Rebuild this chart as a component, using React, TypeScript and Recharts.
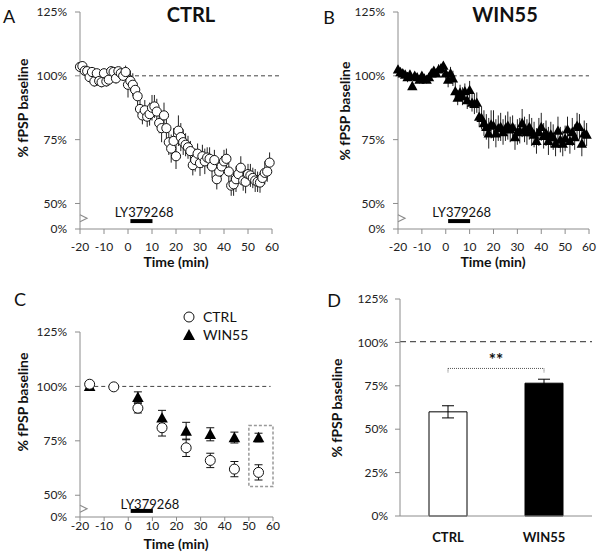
import React from "react"
import { ComposedChart, Line, Bar, Cell, XAxis, YAxis, ErrorBar, ReferenceLine, ReferenceArea, ReferenceDot, Legend } from "recharts"

const FONT = "Lato, 'Open Sans', sans-serif"
const AXIS = "#8c8c8c"

// 1-min time course (panels A, B)
const timeMin = [-20,-19,-18,-17,-16,-15,-14,-13,-12,-11,-10,-9,-8,-7,-6,-5,-4,-3,-2,-1,
  0,1,2,3,4,5,6,7,8,9,10,11,12,13,14,15,16,17,18,19,
  20,21,22,23,24,25,26,27,28,29,30,31,32,33,34,35,36,37,38,39,
  40,41,42,43,44,45,46,47,48,49,50,51,52,53,54,55,56,57,58,59]

const ctrlPct = [103.5,103.8,102,101.8,99.5,101.5,97.8,101,98,97.5,
  101,97.8,98.5,101.8,101.5,99,101.8,101,100,101.5,
  96.5,98,96.5,94.5,92,87,84.5,86.5,84,85,
  87.5,88,86,81.5,79.5,84.5,79.5,74,71.5,74.5,
  68.5,78.5,76,74,73,72,70.5,65,67,69.5,
  65.8,68.5,66.5,68,67.5,64.5,67,59.5,62.5,64.5,
  66.5,67.5,62.5,57,57.5,59.5,61.5,64,59,58.5,
  61.5,61,60,59,58.5,58.2,60,62,62.5,66]
const ctrlSem = [1.5,2,2,1.5,2,1.5,2,1.5,2,2,
  1.5,2,1.5,2,1.5,2,1.5,2,2,2.5,
  5,4,4.5,3,3.5,4,3.5,4,4,4.5,
  5,4.5,5,4,5.5,5,6,5,5.5,5,
  5,6,5.5,5,4.5,4.5,4,4,4.5,4,
  5,4.5,5,4,4.5,4.5,4,4,4.5,4,
  4.5,4,5,4,4.5,5,4,4.5,4,4.5,
  4,4.5,4,4.5,4,4,3.5,4.5,4,4]

const winPct = [102.5,101.5,101,100.5,99.5,100.5,96,100,99.5,98.5,
  100,99,98.5,99.5,101,102,101,102.5,103,104,
  101,98.5,101,99,94,91.5,93.5,92,94,90.5,
  94.5,89.5,89,89.5,84,83.5,81.5,80,77.5,81,
  80.5,77.5,79.5,80,78,79.5,80.5,79,80,76,
  78,78.5,81.5,79,78,80,78,77,74.5,78,
  80,76.5,77.5,74.5,77,76,73.5,78.5,75,73.5,
  75.5,79,74.5,78,76,80.5,80,73.5,77.5,77]
const winSem = [1.5,1.5,1.5,1.5,2,1.5,1.5,1.5,1.5,1.5,
  1.5,1.5,1.5,1.5,1.5,1.5,1.5,2,1.5,1.5,
  2.5,3,2.5,3,3.5,3,3,3.5,3,3.5,
  3.5,3.5,4,4,4,4.5,5,5,6,5.5,
  6,5.5,5,5.5,5,5,5.5,5,4.5,5,
  5,5,5.5,5,5,5,5.5,5,5,5.5,
  5.5,5,5,5.5,5,5,5,5.5,5,5,
  5,5,5,5.5,5,5,5,5,5,4.5]

// 10-min bins (panel C)
const binTime = [-16,-6,4,14,24,34,44,54]
const binCtrl = [101,99.8,90,81,71.8,66,62,60.5]
const binCtrlSem = [0.8,0.8,2.2,3.8,4,3.3,3.5,3.5]
const binWin = [100,null,95,85.5,79.5,78,76.5,76.5]
const binWinSem = [0.8,null,2.5,3.5,4,3,2.5,2]

// last bin summary (panel D)
const groups = ["CTRL", "WIN55"]
const groupMean = [60, 76.5]
const groupSem = [3.5, 2.3]

const timeTicks = [-20,-10,0,10,20,30,40,50,60]
const pctTicks = [40,50,75,100,125]
const fmtPct = (v: number) => (v === 40 ? "0%" : v + "%")

const tickStyle = { fill: "#222", fontSize: 12, fontFamily: FONT }

const courseA = timeMin.map((t, i) => ({ t, v: ctrlPct[i], e: ctrlSem[i] }))
const courseB = timeMin.map((t, i) => ({ t, v: winPct[i], e: winSem[i] }))
const binned = binTime.map((t, i) => ({ t, c: binCtrl[i], ce: binCtrlSem[i], w: binWin[i], we: binWinSem[i] }))
const bars = groups.map((g, i) => ({ g, m: groupMean[i], e: groupSem[i] }))

function circleDot(r: number) {
  return (p: any) => {
    if (p.value == null || p.cy == null) return <g key={`n${p.index}`} />
    return <circle key={`c${p.index}`} cx={p.cx} cy={p.cy} r={r} fill="#fff" stroke="#111" strokeWidth={1} />
  }
}
function triDot(s: number) {
  return (p: any) => {
    if (p.value == null || p.cy == null) return <g key={`n${p.index}`} />
    const { cx, cy } = p
    return <path key={`t${p.index}`} d={`M${cx},${cy - s}L${cx + s},${cy + s * 0.8}L${cx - s},${cy + s * 0.8}Z`} fill="#000" />
  }
}
const breakMark = (p: any) => (
  <polyline points={`${p.cx},${p.cy - 3.5} ${p.cx + 7},${p.cy} ${p.cx},${p.cy + 3.5}`} fill="none" stroke={AXIS} strokeWidth={1.2} />
)

const abs = (left: number, top: number): React.CSSProperties => ({ position: "absolute", left, top })

function Txt({ x, y, size, bold, children, rotate }: any) {
  return (
    <div style={{ position: "absolute", left: x, top: y, transform: `translate(-50%,-50%)${rotate ? " rotate(-90deg)" : ""}`,
      whiteSpace: "nowrap", fontFamily: FONT, fontSize: size, fontWeight: bold ? 700 : 400, color: "#111", lineHeight: 1 }}>
      {children}
    </div>
  )
}

function Course({ data, yw, right, tri, dashTo }: any) {
  return (
    <ComposedChart width={300} height={280} data={data} margin={{ top: 12, right, bottom: 0, left: 0 }}>
      <XAxis dataKey="t" type="number" domain={[-20, 60]} ticks={timeTicks} interval={0} stroke={AXIS}
        tickSize={5} tickMargin={8} tick={tickStyle} height={51} />
      <YAxis type="number" domain={[40, 125]} ticks={pctTicks} tickFormatter={fmtPct} stroke={AXIS}
        tickSize={5} tickMargin={8} tick={tickStyle} width={yw} />
      <ReferenceLine segment={[{ x: 0, y: 100 }, { x: dashTo, y: 100 }]} ifOverflow="visible" stroke="#444" strokeDasharray="4 3" />
      <ReferenceDot x={-20} y={44.2} r={1} shape={breakMark} ifOverflow="visible" />
      <ReferenceLine segment={[{ x: 1, y: 43.1 }, { x: 10.2, y: 43.1 }]} stroke="#000" strokeWidth={4} />
      <ReferenceDot x={6.7} y={46.4} r={0.1} fill="none" stroke="none"
        label={{ value: "LY379268", position: "center", fill: "#111", fontSize: 13, fontFamily: FONT }} />
      <Line dataKey="v" stroke="none" isAnimationActive={false} activeDot={false} dot={tri ? triDot(5.2) : circleDot(4.6)}>
        <ErrorBar dataKey="e" width={0} stroke="#222" strokeWidth={1} direction="y" />
      </Line>
    </ComposedChart>
  )
}

function LegendBox() {
  return (
    <div style={{ fontFamily: FONT, fontSize: 14, color: "#111", lineHeight: "18px" }}>
      <div style={{ display: "flex", alignItems: "center" }}>
        <svg width={12} height={12} style={{ marginRight: 8 }}><circle cx={6} cy={6} r={5} fill="#fff" stroke="#111" /></svg>CTRL
      </div>
      <div style={{ display: "flex", alignItems: "center" }}>
        <svg width={12} height={12} style={{ marginRight: 8 }}><path d="M6,0L12,11L0,11Z" fill="#000" /></svg>WIN55
      </div>
    </div>
  )
}

export default function App() {
  return (
    <div style={{ position: "absolute", left: 0, top: 0, width: 600, height: 558, background: "#fff", fontFamily: FONT }}>
      <div style={abs(0, 0)}>
        <Course data={courseA} yw={80} right={28} tri={false} dashTo={64} />
      </div>
      <div style={abs(300, 0)}>
        <Course data={courseB} yw={98} right={11} tri={true} dashTo={60} />
      </div>

      <div style={abs(0, 280)}>
        <ComposedChart width={300} height={278} data={binned} margin={{ top: 16, right: 27, bottom: 0, left: 0 }}>
          <XAxis dataKey="t" type="number" domain={[-20, 60]} ticks={timeTicks} interval={0} stroke={AXIS}
            tickSize={4} tickMargin={0} tick={tickStyle} height={41} />
          <YAxis type="number" domain={[40, 125]} ticks={pctTicks} tickFormatter={fmtPct} stroke={AXIS}
            tickSize={5} tickMargin={8} tick={tickStyle} width={80} />
          <ReferenceLine segment={[{ x: -17, y: 100 }, { x: 59, y: 100 }]} stroke="#444" strokeDasharray="4 3" />
          <ReferenceArea x1={50} x2={60} y1={54} y2={82} fill="none" stroke="#999" strokeWidth={1.5} strokeDasharray="3 2" />
          <ReferenceDot x={-20} y={43.8} r={1} shape={breakMark} ifOverflow="visible" />
          <ReferenceLine segment={[{ x: 1, y: 42.8 }, { x: 10.2, y: 42.8 }]} stroke="#000" strokeWidth={4} />
          <ReferenceDot x={9} y={45.9} r={0.1} fill="none" stroke="none"
            label={{ value: "LY379268", position: "center", fill: "#111", fontSize: 13, fontFamily: FONT }} />
          <Legend verticalAlign="top" align="left" content={() => <LegendBox />}
            wrapperStyle={{ position: "absolute", left: 183, top: 28, width: 90 }} />
          <Line dataKey="w" stroke="none" isAnimationActive={false} activeDot={false} dot={triDot(5.8)}>
            <ErrorBar dataKey="we" width={4} stroke="#111" strokeWidth={1} direction="y" />
          </Line>
          <Line dataKey="c" stroke="none" isAnimationActive={false} activeDot={false} dot={circleDot(5)}>
            <ErrorBar dataKey="ce" width={4} stroke="#111" strokeWidth={1} direction="y" />
          </Line>
        </ComposedChart>
      </div>

      <div style={abs(300, 280)}>
        <ComposedChart width={300} height={278} data={bars} margin={{ top: 19, right: 8, bottom: 0, left: 0 }}>
          <XAxis dataKey="g" stroke={AXIS} tickLine={false} tickSize={6} tickMargin={11} height={42}
            tick={{ fill: "#111", fontSize: 13, fontWeight: 700, fontFamily: FONT }} />
          <YAxis type="number" domain={[0, 125]} ticks={[0, 25, 50, 75, 100, 125]} tickFormatter={(v: number) => v + "%"}
            stroke={AXIS} tickSize={5} tickMargin={7} tick={tickStyle} width={100} />
          <ReferenceLine y={100.5} stroke="#555" strokeWidth={1.3} strokeDasharray="6 4" />
          <Bar dataKey="m" barSize={38} isAnimationActive={false} stroke="#000" strokeWidth={1}>
            {bars.map((b, i) => (
              <Cell key={b.g} fill={i === 0 ? "#fff" : "#000"} />
            ))}
            <ErrorBar dataKey="e" width={6} stroke="#000" strokeWidth={1} direction="y" />
          </Bar>
          <ReferenceLine segment={[{ x: "CTRL", y: 85 }, { x: "WIN55", y: 85 }]} stroke="#555" strokeDasharray="1 1"
            label={{ value: "**", position: "top", offset: 2, fill: "#111", fontSize: 17, fontWeight: 700, fontFamily: FONT }} />
          <ReferenceLine segment={[{ x: "CTRL", y: 85 }, { x: "CTRL", y: 82.5 }]} stroke="#555" strokeDasharray="1 1" />
          <ReferenceLine segment={[{ x: "WIN55", y: 85 }, { x: "WIN55", y: 82.5 }]} stroke="#555" strokeDasharray="1 1" />
        </ComposedChart>
      </div>

      <Txt x={9} y={16} size={18}>A</Txt>
      <Txt x={329} y={17} size={18}>B</Txt>
      <Txt x={20} y={299} size={18}>C</Txt>
      <Txt x={334} y={300} size={18}>D</Txt>
      <Txt x={191} y={14} size={20} bold>CTRL</Txt>
      <Txt x={505} y={14} size={20} bold>WIN55</Txt>

      <Txt x={23} y={108} size={14} bold rotate>% fPSP baseline</Txt>
      <Txt x={345} y={111} size={14} bold rotate>% fPSP baseline</Txt>
      <Txt x={23} y={402} size={14} bold rotate>% fPSP baseline</Txt>
      <Txt x={337} y={408} size={14} bold rotate>% fPSP baseline</Txt>

      <Txt x={176} y={262} size={14} bold>Time (min)</Txt>
      <Txt x={493} y={262} size={14} bold>Time (min)</Txt>
      <Txt x={176} y={544} size={14} bold>Time (min)</Txt>
    </div>
  )
}
